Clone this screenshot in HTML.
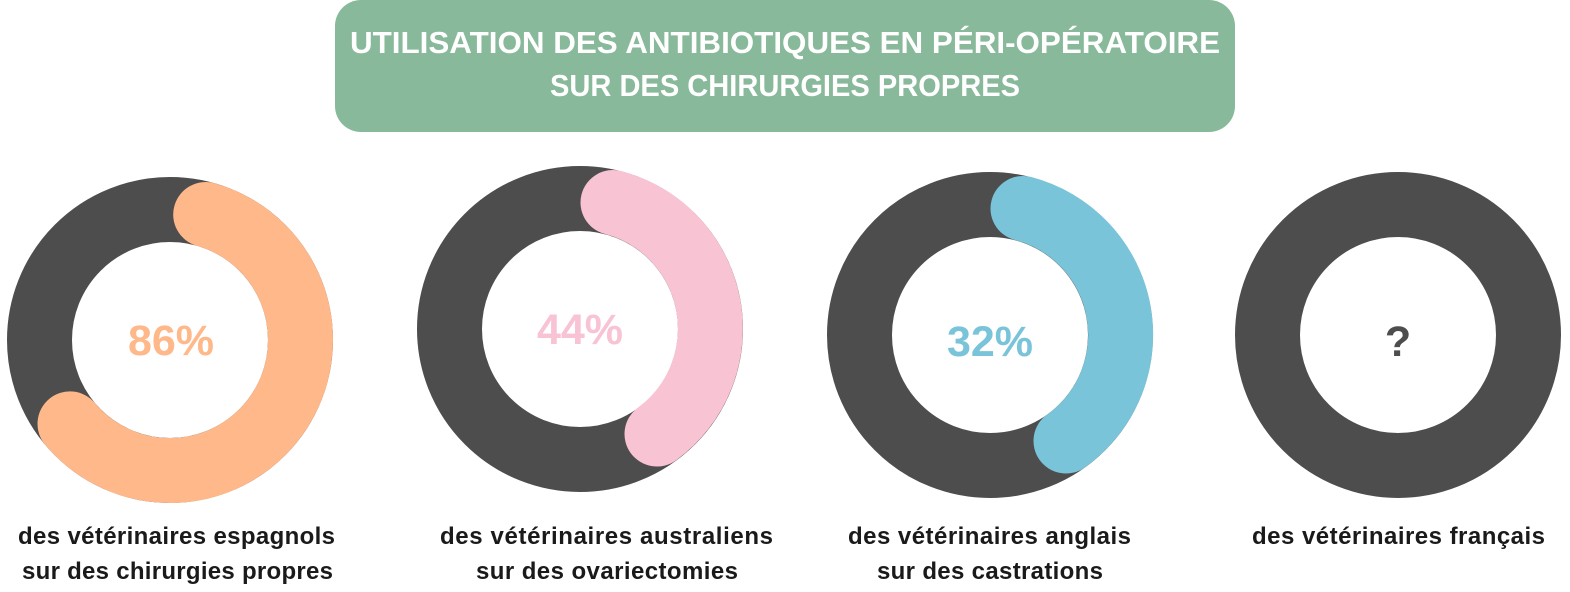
<!DOCTYPE html>
<html><head><meta charset="utf-8"><style>
body{margin:0;background:#fff;}
svg{display:block;}
</style></head><body>
<svg width="1570" height="592" viewBox="0 0 1570 592" xmlns="http://www.w3.org/2000/svg" font-family="Liberation Sans, sans-serif">
<rect x="335" y="0" width="900" height="132" rx="26" fill="#88b99a"/>
<text x="350" y="53" fill="#fff" font-size="31" font-weight="bold" textLength="870" lengthAdjust="spacingAndGlyphs">UTILISATION DES ANTIBIOTIQUES  EN PÉRI-OPÉRATOIRE</text>
<text x="550" y="96" fill="#fff" font-size="31" font-weight="bold" textLength="470" lengthAdjust="spacingAndGlyphs">SUR DES CHIRURGIES PROPRES</text>
<g fill="none" stroke-width="65">
<circle cx="170" cy="340" r="130.5" stroke="#4d4d4d"/>
<circle cx="580" cy="329" r="130.5" stroke="#4d4d4d"/>
<circle cx="990" cy="335" r="130.5" stroke="#4d4d4d"/>
<circle cx="1398" cy="335" r="130.5" stroke="#4d4d4d"/>
</g>
<g fill="none" stroke-width="65" stroke-linecap="round">
<path d="M205.7,214.5 A130.5,130.5 0 1 1 70,423.9" stroke="#ffb889"/>
<path d="M613,202.5 A130.5,130.5 0 0 1 657,434" stroke="#f8c3d3"/>
<path d="M1023,208.5 A130.5,130.5 0 0 1 1066,441" stroke="#7ac4da"/>
</g>
<g font-weight="bold" font-size="43" text-anchor="middle">
<text x="171" y="355" fill="#ffb889">86%</text>
<text x="580" y="344" fill="#f8c3d3">44%</text>
<text x="990" y="356" fill="#7ac4da">32%</text>
<text x="1398" y="356" fill="#4d4d4d">?</text>
</g>
<g font-weight="bold" font-size="24" fill="#1a1a1a" lengthAdjust="spacingAndGlyphs">
<text x="18" y="544" textLength="317">des vétérinaires espagnols</text>
<text x="22" y="579" textLength="311">sur des chirurgies propres</text>
<text x="440" y="544" textLength="333">des vétérinaires australiens</text>
<text x="476" y="579" textLength="262">sur des ovariectomies</text>
<text x="848" y="544" textLength="283">des vétérinaires anglais</text>
<text x="877" y="579" textLength="226">sur des castrations</text>
<text x="1252" y="544" textLength="293">des vétérinaires français</text>
</g>
</svg>
</body></html>
